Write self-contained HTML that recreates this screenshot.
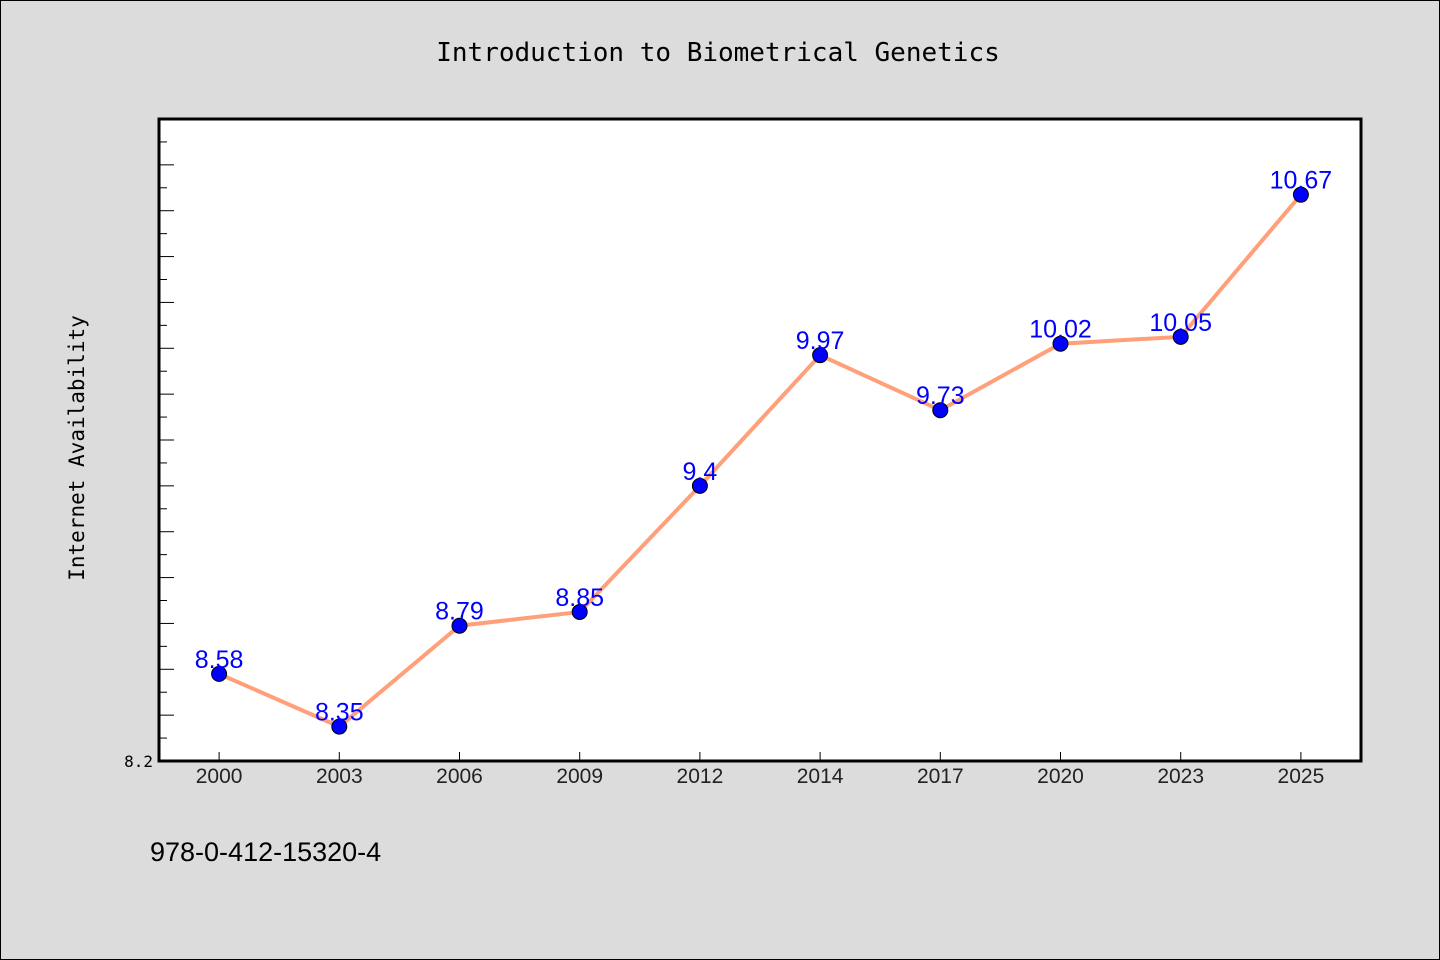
<!DOCTYPE html>
<html><head><meta charset="utf-8"><style>
body{margin:0;background:#dcdcdc;}
svg{display:block;}
</style></head><body>
<svg width="1440" height="960" viewBox="0 0 1440 960" xmlns="http://www.w3.org/2000/svg">
<rect x="0.5" y="0.5" width="1439" height="959" fill="#dcdcdc" stroke="#000" stroke-width="1"/>
<text x="718" y="61" text-anchor="middle" font-family="'DejaVu Sans Mono','Liberation Mono',monospace" font-size="26" fill="#000">Introduction to Biometrical Genetics</text>
<rect x="159" y="119" width="1202" height="642" fill="#fff"/>
<g id="ticks"></g>
<g id="series"></g>
<rect x="159" y="119" width="1202" height="642" fill="none" stroke="#000" stroke-width="3"/>
<text transform="translate(84,448) rotate(-90)" text-anchor="middle" font-family="'DejaVu Sans Mono','Liberation Mono',monospace" font-size="21" fill="#000">Internet Availability</text>
<text x="153" y="767" text-anchor="end" font-family="'DejaVu Sans Mono','Liberation Mono',monospace" font-size="16" fill="#000">8.2</text>
<text x="150" y="861" font-family="'Liberation Sans',sans-serif" font-size="27" fill="#000">978-0-412-15320-4</text>
<script>
const categories = ["2000","2003","2006","2009","2012","2014","2017","2020","2023","2025"];
const values = [8.58,8.35,8.79,8.85,9.4,9.97,9.73,10.02,10.05,10.67];
const labels = ["8.58","8.35","8.79","8.85","9.4","9.97","9.73","10.02","10.05","10.67"];
const yMin = 8.2, yMax = 11.0;
const NS = "http://www.w3.org/2000/svg";
const X0 = 159, W = 1202, Y0 = 761, H = 642;
function xs(i){ return X0 + W/categories.length*(i+0.5); }
function ys(v){ return Y0 - (v - yMin)/(yMax - yMin)*H; }
const tg = document.getElementById('ticks');
for (let k = 1; k < 28; k++) {
  const v = yMin + k*0.1;
  const t = document.createElementNS(NS,'line');
  
  
  const y = ys(v);
  t.setAttribute('x1', 160); t.setAttribute('x2', k%2===0 ? 174 : 167);
  t.setAttribute('y1', y); t.setAttribute('y2', y);
  t.setAttribute('stroke', '#000'); t.setAttribute('stroke-width', '1');
  tg.appendChild(t);
}
categories.forEach((c,i) => {
  const t = document.createElementNS(NS,'line');
  
  
  t.setAttribute('x1', xs(i)); t.setAttribute('x2', xs(i));
  t.setAttribute('y1', 752); t.setAttribute('y2', 760);
  t.setAttribute('stroke', '#000');
  tg.appendChild(t);
  const l = document.createElementNS(NS,'text');
  
  
  l.setAttribute('x', xs(i)); l.setAttribute('y', 783);
  l.setAttribute('text-anchor', 'middle');
  l.setAttribute('font-family', "'Liberation Sans',sans-serif");
  l.setAttribute('font-size', '21');
  l.setAttribute('fill', '#222');
  l.textContent = c;
  tg.appendChild(l);
});
const sg = document.getElementById('series');
const line = document.createElementNS(NS,'polyline');


line.setAttribute('points', values.map((v,i)=>xs(i)+','+ys(v)).join(' '));
line.setAttribute('fill', 'none');
line.setAttribute('stroke', '#FFA07A');
line.setAttribute('stroke-width', '4');
sg.appendChild(line);
values.forEach((v,i) => {
  const c = document.createElementNS(NS,'circle');
  
  
  c.setAttribute('cx', xs(i)); c.setAttribute('cy', ys(v)); c.setAttribute('r', 7.5);
  c.setAttribute('fill', '#0000ff'); c.setAttribute('stroke', '#000'); c.setAttribute('stroke-width', '1');
  sg.appendChild(c);
});
values.forEach((v,i) => {
  const t = document.createElementNS(NS,'text');
  
  
  t.setAttribute('x', xs(i)); t.setAttribute('y', ys(v) - 6);
  t.setAttribute('text-anchor', 'middle');
  t.setAttribute('font-family', "'Liberation Sans',sans-serif");
  t.setAttribute('font-size', '25');
  t.setAttribute('fill', '#0000ff');
  t.textContent = labels[i];
  sg.appendChild(t);
});
</script>
</svg>
</body></html>
